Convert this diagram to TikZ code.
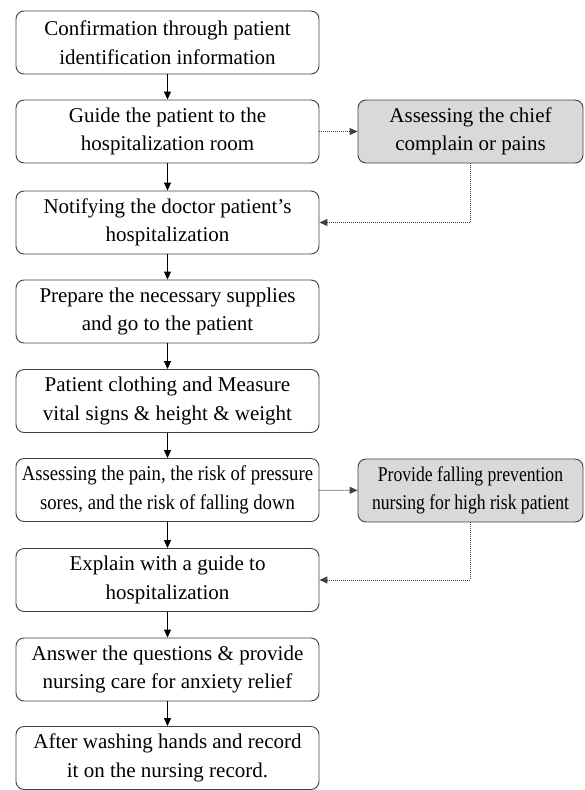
\documentclass[tikz,border=0pt]{standalone}
\usepackage{fontspec}
\setmainfont{Liberation Serif}
\usetikzlibrary{arrows.meta}
\begin{document}
\begin{tikzpicture}[x=1pt,y=-1pt,
  box/.style={draw=black!75,line width=0.9pt,rounded corners=8pt,
    minimum width=303pt,minimum height=63pt,align=center,inner sep=0pt,
    font=\fontsize{21}{28.5}\selectfont},
  sidebox/.style={box,fill=black!15,minimum width=225pt},
  flow/.style={draw=black,line width=0.9pt,-{Triangle[length=8pt,width=7pt]}},
  side/.style={draw=black!75,line width=1pt,densely dotted,-{Triangle[length=8pt,width=7pt]}}]
\useasboundingbox (0,0) rectangle (584,790);
\node[box] (b1) at (167.5,42.5) {Confirmation through patient\\identification information};
\node[box] (b2) at (167.5,131.5) {Guide the patient to the\\hospitalization room};
\node[box] (b3) at (167.5,222.5) {Notifying the doctor patient's\\hospitalization};
\node[box] (b4) at (167.5,311.5) {Prepare the necessary supplies\\and go to the patient};
\node[box] (b5) at (167.5,401) {Patient clothing and Measure\\vital signs \& height \& weight};
\node[box] (b6) at (167.5,490) {\scalebox{0.89}[1]{Assessing the pain, the risk of pressure}\\\scalebox{0.89}[1]{sores, and the risk of falling down}};
\node[box] (b7) at (167.5,580) {Explain with a guide to\\hospitalization};
\node[box] (b8) at (167.5,669.5) {Answer the questions \& provide\\nursing care for anxiety relief};
\node[box] (b9) at (167.5,758) {After washing hands and record\\it on the nursing record.};
\node[sidebox] (s1) at (470.5,131.5) {Assessing the chief\\complain or pains};
\node[sidebox] (s2) at (470.5,490.5) {\scalebox{0.84}[1]{Provide falling prevention}\\\scalebox{0.84}[1]{nursing for high risk patient}};
\foreach \a/\b in {b1/b2,b2/b3,b3/b4,b4/b5,b5/b6,b6/b7,b7/b8,b8/b9}
  \draw[flow] (\a) -- (\b);
\draw[side] (b2) -- (s1);
\draw[side] (s1.south) |- (b3.east);
\draw[side] (b6) -- (s2);
\draw[side] (s2.south) |- (b7.east);
\end{tikzpicture}
\end{document}
